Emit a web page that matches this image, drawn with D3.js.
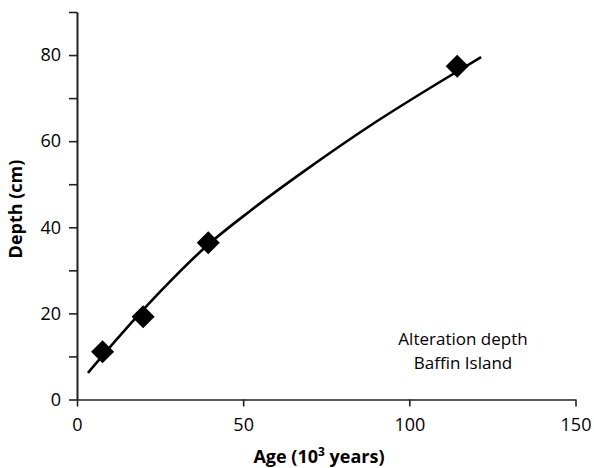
<!DOCTYPE html>
<html>
<head>
<meta charset="utf-8">
<script src="https://cdn.jsdelivr.net/npm/d3@7"></script>
<style>
  body { margin: 0; background: #fff; }
  text { font-family: "Open Sans", sans-serif; fill: #000; }
</style>
</head>
<body>
<div id="chart"></div>
<script>
// measured samples
const sampleAge = [7.7, 19.9, 39.5, 114.4];
const sampleDepth = [11.1, 19.2, 36.4, 77.4];

// fitted curve
const curveAge = [3.3, 13.0, 25.1, 39.5, 52.1, 69.2, 89.2, 109.3, 121.6];
const curveDepth = [6.2, 14.9, 25.1, 36.0, 43.8, 53.5, 64.1, 73.8, 79.5];

const xTicks = [0, 50, 100, 150];
const yTicks = [0, 20, 40, 60, 80];
const yMinor = [10, 30, 50, 70, 90];

const noteLines = ["Alteration depth", "Baffin Island"];

const W = 594, H = 468;
const x = d3.scaleLinear().domain([0, 150]).range([77, 575.5]);
const y = d3.scaleLinear().domain([0, 90]).range([399.5, 12]);

const svg = d3.select("#chart").append("svg")
  .attr("width", W)
  .attr("height", H);

// x axis
svg.append("g")
  .attr("transform", `translate(0,${y(0)})`)
  .call(d3.axisBottom(x).tickValues(xTicks).tickSize(7).tickPadding(12).tickSizeOuter(0));
// y axis, minor ticks first
svg.append("g")
  .attr("transform", `translate(${x(0)},0)`)
  .call(d3.axisLeft(y).tickValues(yMinor).tickSize(8).tickFormat("").tickSizeOuter(0));
svg.append("g")
  .attr("transform", `translate(${x(0)},0)`)
  .call(d3.axisLeft(y).tickValues(yTicks).tickSize(8).tickPadding(8).tickSizeOuter(0));

svg.selectAll(".domain, .tick line")
  .attr("stroke", "#222")
  .attr("stroke-width", 1.6);
svg.selectAll(".tick text")
  .style("font-family", "'Open Sans', sans-serif")
  .style("font-size", "18px")
  .attr("fill", "#000");

// curve
const line = d3.line()
  .x(d => x(d[0]))
  .y(d => y(d[1]))
  .curve(d3.curveMonotoneX);
svg.append("path")
  .datum(d3.zip(curveAge, curveDepth))
  .attr("d", line)
  .attr("fill", "none")
  .attr("stroke", "#000")
  .attr("stroke-width", 2.6);

// diamonds
const diamond = d3.symbol().type(d3.symbolSquare).size(265);
svg.selectAll(".pt")
  .data(d3.zip(sampleAge, sampleDepth))
  .enter().append("path")
  .attr("class", "pt")
  .attr("d", diamond)
  .attr("transform", d => `translate(${x(d[0])},${y(d[1])}) rotate(45)`)
  .attr("fill", "#000");

// axis titles
svg.append("text")
  .attr("x", 319).attr("y", 463)
  .attr("text-anchor", "middle")
  .style("font-size", "18px").style("font-weight", "bold")
  .html('Age (10<tspan dy="-7" font-size="12">3</tspan><tspan dy="7"> years)</tspan>');

svg.append("text")
  .attr("transform", "translate(22,209) rotate(-90)")
  .attr("text-anchor", "middle")
  .style("font-size", "18px").style("font-weight", "bold")
  .text("Depth (cm)");

// annotation
svg.selectAll(".note")
  .data(noteLines)
  .enter().append("text")
  .attr("class", "note")
  .attr("x", 463)
  .attr("y", (d, i) => 345 + i * 23.5)
  .attr("text-anchor", "middle")
  .style("font-size", "17px")
  .text(d => d);
</script>
</body>
</html>
